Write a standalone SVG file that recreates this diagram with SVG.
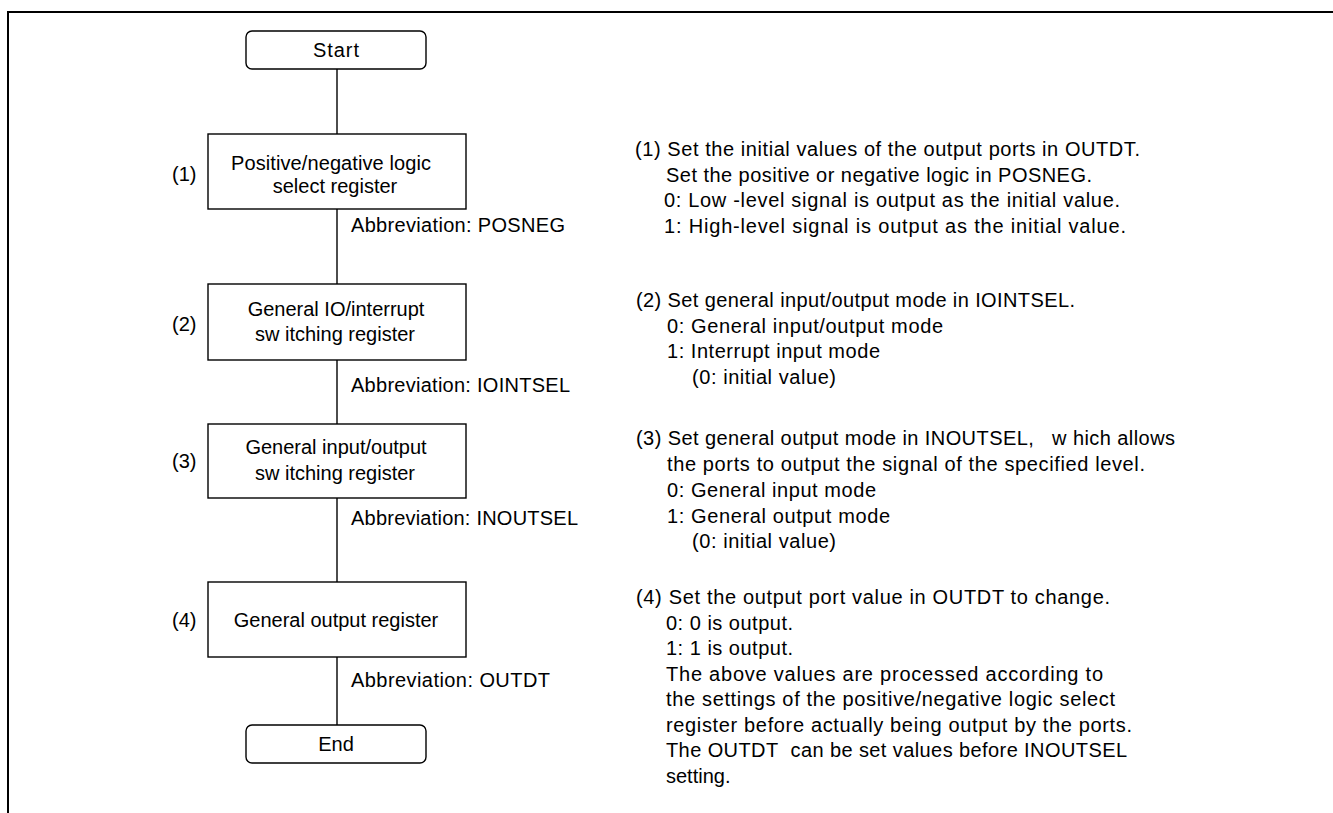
<svg xmlns="http://www.w3.org/2000/svg" width="1333" height="813" viewBox="0 0 1333 813">
<style>
text{font-family:"Liberation Sans",Arial,sans-serif;font-size:20px;fill:#000}
.c{text-anchor:middle}
.box{fill:#fff;stroke:#000;stroke-width:1.4}
.ln{stroke:#000;stroke-width:1.4;fill:none}
.frame{stroke:#000;stroke-width:2;fill:none}
</style>
<rect width="1333" height="813" fill="#fff"/>
<path class="frame" d="M8,813 V12 H1333"/>
<g id="connectors">
<line class="ln" x1="337" y1="69" x2="337" y2="134"/>
<line class="ln" x1="337" y1="209" x2="337" y2="284"/>
<line class="ln" x1="337" y1="360" x2="337" y2="424"/>
<line class="ln" x1="337" y1="498" x2="337" y2="582"/>
<line class="ln" x1="337" y1="657" x2="337" y2="725"/>
<text x="351" y="232" textLength="214" lengthAdjust="spacing">Abbreviation: POSNEG</text>
<text x="351" y="392" textLength="219" lengthAdjust="spacing">Abbreviation: IOINTSEL</text>
<text x="351" y="525" textLength="227" lengthAdjust="spacing">Abbreviation: INOUTSEL</text>
<text x="351" y="687" textLength="199" lengthAdjust="spacing">Abbreviation: OUTDT</text>
</g>
<g id="start">
<rect class="box" x="246" y="31" width="180" height="38" rx="6"/>
<text class="c" x="336" y="57" textLength="46" lengthAdjust="spacing">Start</text>
</g>
<g id="step1">
<rect class="box" x="208" y="134" width="258" height="75"/>
<text class="c" x="331" y="170" textLength="200" lengthAdjust="spacing">Positive/negative logic</text>
<text class="c" x="335" y="193">select register</text>
<text x="172" y="181">(1)</text>
</g>
<g id="step2">
<rect class="box" x="208" y="284" width="258" height="76"/>
<text class="c" x="336" y="316">General IO/interrupt</text>
<text class="c" x="335" y="341">sw itching register</text>
<text x="172" y="331">(2)</text>
</g>
<g id="step3">
<rect class="box" x="208" y="424" width="258" height="74"/>
<text class="c" x="336" y="454">General input/output</text>
<text class="c" x="335" y="480">sw itching register</text>
<text x="172" y="468">(3)</text>
</g>
<g id="step4">
<rect class="box" x="208" y="582" width="258" height="75"/>
<text class="c" x="336" y="627">General output register</text>
<text x="172" y="627">(4)</text>
</g>
<g id="end">
<rect class="box" x="246" y="725" width="180" height="38" rx="6"/>
<text class="c" x="336" y="751">End</text>
</g>
<g id="notes">
<text x="635" y="156" textLength="505" lengthAdjust="spacing">(1) Set the initial values of the output ports in OUTDT.</text>
<text x="666" y="181.5" textLength="426" lengthAdjust="spacing">Set the positive or negative logic in POSNEG.</text>
<text x="664" y="207" textLength="456" lengthAdjust="spacing">0: Low -level signal is output as the initial value.</text>
<text x="664" y="232.5" textLength="462" lengthAdjust="spacing">1: High-level signal is output as the initial value.</text>
<text x="636" y="307" textLength="439" lengthAdjust="spacing">(2) Set general input/output mode in IOINTSEL.</text>
<text x="667" y="332.5" textLength="276" lengthAdjust="spacing">0: General input/output mode</text>
<text x="667" y="358" textLength="213" lengthAdjust="spacing">1: Interrupt input mode</text>
<text x="692" y="383.5" textLength="144" lengthAdjust="spacing">(0: initial value)</text>
<text x="636" y="445" textLength="539" lengthAdjust="spacing">(3) Set general output mode in INOUTSEL,&#160;&#160; w hich allows</text>
<text x="667" y="471" textLength="478" lengthAdjust="spacing">the ports to output the signal of the specified level.</text>
<text x="667" y="497" textLength="209" lengthAdjust="spacing">0: General input mode</text>
<text x="667" y="522.5" textLength="223" lengthAdjust="spacing">1: General output mode</text>
<text x="692" y="548" textLength="144" lengthAdjust="spacing">(0: initial value)</text>
<text x="636" y="604" textLength="474" lengthAdjust="spacing">(4) Set the output port value in OUTDT to change.</text>
<text x="666" y="629.5" textLength="127" lengthAdjust="spacing">0: 0 is output.</text>
<text x="666" y="655" textLength="127" lengthAdjust="spacing">1: 1 is output.</text>
<text x="666" y="680.5" textLength="437" lengthAdjust="spacing">The above values are processed according to</text>
<text x="666" y="706" textLength="449" lengthAdjust="spacing">the settings of the positive/negative logic select</text>
<text x="666" y="731.5" textLength="466" lengthAdjust="spacing">register before actually being output by the ports.</text>
<text x="666" y="757" textLength="461" lengthAdjust="spacing">The OUTDT&#160; can be set values before INOUTSEL</text>
<text x="666" y="782.5">setting.</text>
</g>
</svg>
